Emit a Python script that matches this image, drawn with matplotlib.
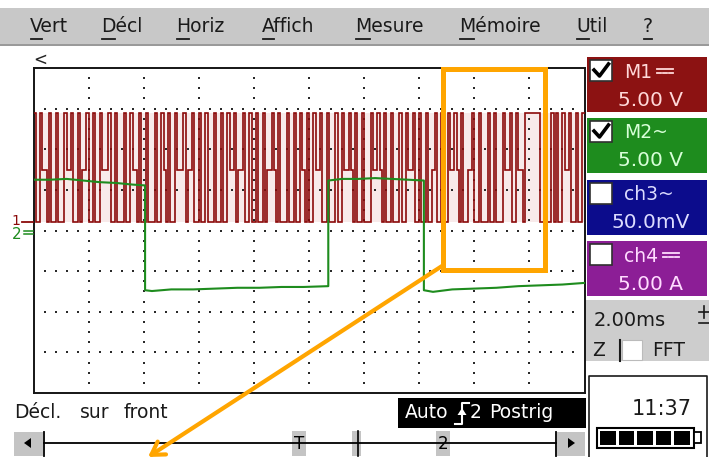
import matplotlib
matplotlib.use('Agg')
import matplotlib.pyplot as plt
import numpy as np
from matplotlib.patches import Rectangle, Polygon
from matplotlib.lines import Line2D

# ---------------- data ----------------
time_per_div_ms = 2.0
m1_volts_per_div = 5.0
m2_volts_per_div = 5.0
m1_offset_div = 4.2
m2_offset_div = 3.95

# M1 sampled display: code 0 = low, 1 = mid, 2 = high
m1_level_volts = [0.0, 6.5, 13.5]
m1_sample_ms = 0.08
m1_codes = [
    2,0,0,2,1,1,0,2,0,0,2,0,0,0,2,1,1,2,0,0,2,0,1,1,2,
    0,0,2,0,0,2,1,1,1,2,0,0,2,0,0,0,2,0,0,2,1,1,0,2,0,
    0,2,0,0,0,2,0,0,2,1,0,2,0,0,2,1,1,1,2,0,1,1,2,0,0,
    2,0,0,2,0,0,0,2,0,0,2,0,0,2,1,1,2,0,1,1,2,0,0,2,0,
    0,2,0,0,2,0,1,1,2,1,0,2,0,0,0,2,0,0,2,0,0,2,1,0,2,
    0,0,2,1,1,2,0,0,2,0,0,0,2,0,0,2,1,1,2,1,0,2,0,0,2,
    0,0,0,2,1,1,2,1,0,2,0,0,2,0,0,0,2,0,0,2,1,1,2,0,0,
    2,0,0,2,0,0,1,2,0,0,2,0,0,2,1,1,2,1,0,2,0,0,1,1,2,
    0,0,2,0,0,0,2,0,0,2,0,0,0,2,1,1,2,0,0,2,1,1,0,2,2,
    2,2,2,2,2,0,0,2,0,0,2,0,2,0,0,2,1,1,2,0,0,2,0,0,2,
]

m2_t_ms = [0.05, 0.6, 1.2, 1.8, 2.4, 3.0, 3.6, 4.05, 4.05, 4.3, 5.0, 5.8, 6.6,
           7.4, 8.2, 9.0, 9.8, 10.7, 10.7, 11.2, 11.8, 12.4, 13.0, 13.6, 14.17,
           14.17, 14.5, 15.2, 16.0, 16.8, 17.6, 18.4, 19.2, 20.0]
m2_volts = [6.5, 6.5, 6.6, 6.4, 6.2, 6.1, 5.9, 5.8, -7.1, -7.2, -7.0, -7.0, -6.9,
            -6.8, -6.8, -6.7, -6.7, -6.6, 6.4, 6.6, 6.6, 6.7, 6.6, 6.5, 6.4,
            -7.1, -7.3, -7.0, -6.9, -6.8, -6.6, -6.5, -6.4, -6.2]

menu_items = ["Vert", "Décl", "Horiz", "Affich", "Mesure", "Mémoire", "Util", "?"]
menu_x = [30, 101, 176, 262, 355, 459, 576, 643]

channel_names = ["M1", "M2~", "ch3~", "ch4"]
channel_dc = [True, False, False, True]
channel_scales = ["5.00 V", "5.00 V", "50.0mV", "5.00 A"]
channel_checked = [True, True, False, False]
channel_colors = ["#8c1212", "#1e8c1e", "#0c0c8c", "#8c1e96"]
channel_text_colors = ["#ffd8d8", "#d8ffd8", "#dcdcff", "#ffdcff"]

timebase_label = "2.00ms"
clock_label = "11:37"
battery_cells = 5
trigger_words = ["Auto", "2", "Postrig"]
trigger_caption = ["Décl.", "sur", "front"]

# ---------------- figure ----------------
W, H = 709, 457
fig = plt.figure(figsize=(W / 100, H / 100), dpi=100)
fig.patch.set_facecolor('white')
FONT = 'DejaVu Sans'

# scope area in pixel coordinates
L, R, T, B = 33.5, 584.5, 68.0, 393.0
ax = fig.add_axes([L / W, (H - B) / H, (R - L) / W, (B - T) / H])
ax.set_xlim(0, 10)
ax.set_ylim(0, 8)
ax.set_xticks([])
ax.set_yticks([])
for s in ax.spines.values():
    s.set_linewidth(1.4)
    s.set_color('#151515')

# dotted graticule
gx, gy = [], []
for r in range(1, 8):
    xs = np.arange(0.2, 9.95, 0.2)
    gx += list(xs); gy += [r] * len(xs)
for c in range(1, 10):
    ys = np.arange(0.25, 7.9, 0.25)
    gx += [c] * len(ys); gy += list(ys)
ax.scatter(gx, gy, s=3.2, marker='s', color='#2a2a2a', linewidths=0, zorder=1)

# M1 trace
m1_t = np.arange(len(m1_codes) + 1) * m1_sample_ms
m1_v = [m1_level_volts[c] for c in m1_codes] + [m1_level_volts[m1_codes[-1]]]
m1_x = m1_t / time_per_div_ms
m1_y = m1_offset_div + np.array(m1_v) / m1_volts_per_div
ax.fill_between([0, 10], m1_offset_div, m1_offset_div + m1_level_volts[2] / m1_volts_per_div,
                color='#f8eaea', lw=0, zorder=0.5)
ax.step(m1_x, m1_y, where='post', color='#8b0a0a', lw=1.2, zorder=3,
        solid_joinstyle='miter')

# M2 trace
ax.plot(np.array(m2_t_ms) / time_per_div_ms,
        m2_offset_div + np.array(m2_volts) / m2_volts_per_div,
        color='#1e8c1e', lw=1.5, zorder=4)

# ---------------- UI overlay ----------------
ui = fig.add_axes([0, 0, 1, 1], zorder=10)
ui.set_xlim(0, W)
ui.set_ylim(H, 0)
ui.axis('off')
ui.patch.set_alpha(0)

# menu bar
ui.add_patch(Rectangle((0, 8), W, 37, color='#c8c8c8', lw=0))
ui.add_patch(Rectangle((0, 44), W, 2, color='#9a9a9a', lw=0))
fig.canvas.draw()
rend = fig.canvas.get_renderer()
for word, x in zip(menu_items, menu_x):
    ui.text(x, 27, word, fontsize=13.5, family=FONT, color='#1a1a1a', va='center', ha='left')
    t0 = ui.text(x, 27, word[0], fontsize=13.5, family=FONT, alpha=0, va='center', ha='left')
    bb = t0.get_window_extent(rend)
    ui.add_line(Line2D([bb.x0 + 1, bb.x1 - 1], [39, 39], color='#1a1a1a', lw=1.3))

# "<" marker
ui.text(40, 60, "<", fontsize=12, family=FONT, color='#222222', ha='center', va='center')

# ground markers
m1_gnd = B - m1_offset_div * (B - T) / 8
m2_gnd = B - m2_offset_div * (B - T) / 8
ui.text(16, m1_gnd - 1, "1", fontsize=10, family=FONT, color='#8b0a0a', ha='center', va='center')
ui.add_line(Line2D([22, 33], [m1_gnd, m1_gnd], color='#8b0a0a', lw=1.3))
ui.text(17, m2_gnd + 2, "2", fontsize=11, family=FONT, color='#1e8c1e', ha='center', va='center')
ui.add_line(Line2D([24, 33], [m2_gnd - 1.5, m2_gnd - 1.5], color='#1e8c1e', lw=1.1))
ui.add_line(Line2D([24, 33], [m2_gnd + 1.5, m2_gnd + 1.5], color='#1e8c1e', lw=1.1))

# channel panels
tops = [57, 118, 180, 241]
for i in range(4):
    y0 = tops[i]
    ui.add_patch(Rectangle((587, y0), 120, 55, color=channel_colors[i], lw=0))
    ui.add_patch(Rectangle((590, y0 + 3), 22, 21, facecolor='white', edgecolor='#303030', lw=1.2))
    if channel_checked[i]:
        ui.add_line(Line2D([594, 599.5, 608.5], [y0 + 13, y0 + 19, y0 + 7], color='black', lw=2.6))
    tc = channel_text_colors[i]
    txt = ui.text(624, y0 + 15, channel_names[i], fontsize=13.5, family=FONT, color=tc, ha='left', va='center')
    if channel_dc[i]:
        bb = txt.get_window_extent(rend)
        xs0 = bb.x1 + 5
        ui.add_line(Line2D([xs0, xs0 + 16], [y0 + 12, y0 + 12], color=tc, lw=1.3))
        for k in range(3):
            ui.add_line(Line2D([xs0 + k * 6, xs0 + k * 6 + 3.5], [y0 + 16, y0 + 16], color=tc, lw=1.3))
    ui.text(651, y0 + 43, channel_scales[i], fontsize=14.5, family=FONT, color=tc, ha='center', va='center')

# timebase panel
ui.add_patch(Rectangle((586, 300), 123, 61, color='#cdcdcd', lw=0))
ui.text(594, 321, timebase_label, fontsize=14, family=FONT, color='#1a1a1a', ha='left', va='center')
ui.add_line(Line2D([699, 709], [312, 312], color='#1a1a1a', lw=1.2))
ui.add_line(Line2D([699, 709], [323, 323], color='#1a1a1a', lw=1.2))
ui.add_line(Line2D([704, 704], [306, 318], color='#1a1a1a', lw=1.2))
ui.text(592, 350, "Z", fontsize=13.5, family=FONT, color='#1a1a1a', ha='left', va='center')
ui.add_line(Line2D([620, 620], [340, 361], color='#1a1a1a', lw=1.5))
ui.add_patch(Rectangle((622, 340), 20, 20, facecolor='white', edgecolor='#bbbbbb', lw=0.8))
ui.text(652, 350, "FFT", fontsize=13.5, family=FONT, color='#1a1a1a', ha='left', va='center')

# clock / battery box
ui.add_line(Line2D([589, 589, 707, 707], [457, 376, 376, 457], color='#1a1a1a', lw=1.2))
ui.text(662, 409, clock_label, fontsize=15, family=FONT, color='#1a1a1a', ha='center', va='center')
ui.add_patch(Rectangle((597, 428), 97, 20, facecolor='white', edgecolor='black', lw=1.5))
ui.add_patch(Rectangle((694, 432), 7, 11, facecolor='white', edgecolor='black', lw=1.3))
cw = 93 / battery_cells
for k in range(battery_cells):
    ui.add_patch(Rectangle((600 + k * cw, 431), cw - 3, 14, color='black', lw=0))

# trigger caption
for word, x in zip(trigger_caption, [14, 80, 124]):
    ui.text(x, 412, word, fontsize=13.5, family=FONT, color='#1a1a1a', ha='left', va='center')

# trigger status box
ui.add_patch(Rectangle((398, 398), 188, 30, color='black', lw=0))
ui.text(405, 413, trigger_words[0], fontsize=13.5, family=FONT, color='white', ha='left', va='center')
ui.add_line(Line2D([455, 462, 462, 469], [424, 424, 403, 403], color='white', lw=1.5))
ui.add_patch(Polygon([[457.5, 415], [466.5, 415], [462, 408]], closed=True, color='white', lw=0))
ui.text(470, 413, trigger_words[1], fontsize=13.5, family=FONT, color='white', ha='left', va='center')
ui.text(489, 413, trigger_words[2], fontsize=13.5, family=FONT, color='white', ha='left', va='center')

# scroll bar
ui.add_line(Line2D([44, 556], [443, 443], color='black', lw=1.3))
ui.add_patch(Rectangle((14, 432), 29, 24, color='#c4c4c4', lw=0))
ui.add_line(Line2D([44, 44], [432, 456], color='black', lw=1.3))
ui.add_patch(Polygon([[24, 443], [31, 438], [31, 448]], closed=True, color='black', lw=0))
ui.add_patch(Rectangle((557, 432), 28, 24, color='#c4c4c4', lw=0))
ui.add_line(Line2D([556, 556], [432, 456], color='black', lw=1.3))
ui.add_patch(Polygon([[575, 443], [568, 438], [568, 448]], closed=True, color='black', lw=0))
ui.add_patch(Rectangle((292, 431), 14, 25, color='#c4c4c4', lw=0))
ui.text(299, 444, "T", fontsize=12, family=FONT, color='black', ha='center', va='center')
ui.add_patch(Rectangle((352, 431), 9, 25, color='#c4c4c4', lw=0))
ui.add_line(Line2D([358, 358], [431, 456], color='black', lw=1.2))
ui.add_patch(Rectangle((436, 431), 14, 25, color='#c4c4c4', lw=0))
ui.text(443, 444, "2", fontsize=12, family=FONT, color='black', ha='center', va='center')

# orange highlight box and arrow
ui.add_patch(Rectangle((443, 68.5), 101.5, 201, fill=False, edgecolor='#ffa500', lw=3.6, zorder=20))
ui.annotate('', xy=(148, 457), xytext=(442, 266),
            arrowprops=dict(arrowstyle='->,head_length=0.9,head_width=0.55',
                            color='#ffa500', lw=3.0, shrinkA=0, shrinkB=0), zorder=21)

fig.savefig('out.png', dpi=100, facecolor='white')
